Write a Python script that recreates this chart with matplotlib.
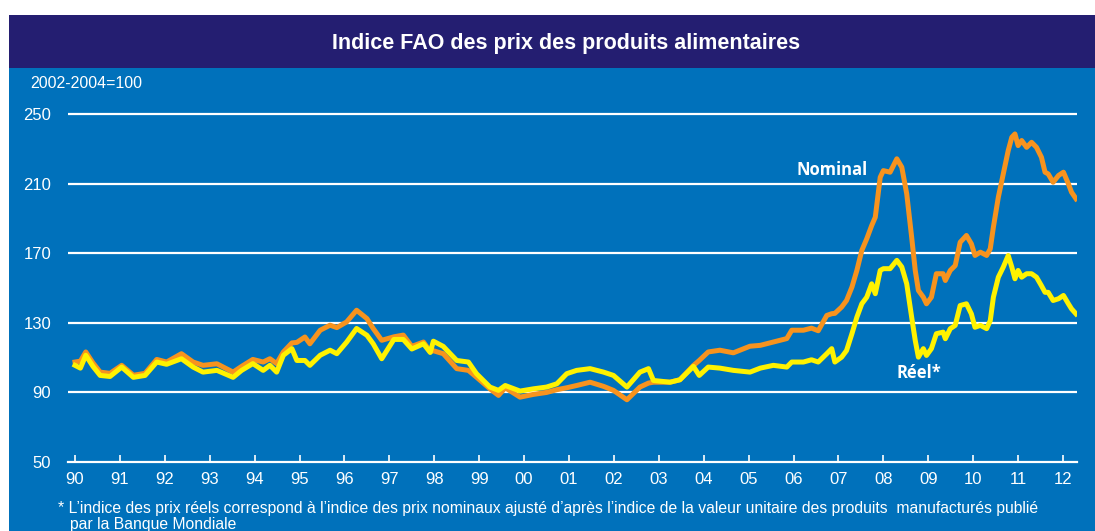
import matplotlib
matplotlib.use("Agg")
from matplotlib import pyplot as plt
from matplotlib.patches import Rectangle
import numpy as np

# time (decimal year), nominal index, real index (2002-2004=100)
years = np.array([
    1990.00, 1990.12, 1990.24, 1990.40, 1990.56, 1990.78, 1991.04, 1991.30, 1991.56, 1991.82,
    1992.04, 1992.37, 1992.63, 1992.85, 1993.16, 1993.52, 1993.71, 1993.96, 1994.19, 1994.34,
    1994.49, 1994.64, 1994.83, 1994.94, 1995.12, 1995.23, 1995.46, 1995.68, 1995.83, 1996.05,
    1996.27, 1996.50, 1996.64, 1996.83, 1997.10, 1997.31, 1997.50, 1997.76, 1997.91, 1997.98,
    1998.20, 1998.50, 1998.76, 1998.94, 1999.24, 1999.43, 1999.58, 1999.91, 2000.21, 2000.50,
    2000.73, 2000.95, 2001.17, 2001.47, 2001.77, 2001.99, 2002.29, 2002.58, 2002.77, 2002.88,
    2003.25, 2003.47, 2003.77, 2003.90, 2004.10, 2004.36, 2004.66, 2005.03, 2005.26, 2005.55,
    2005.85, 2005.96, 2006.22, 2006.40, 2006.55, 2006.74, 2006.85, 2006.92, 2007.07, 2007.18,
    2007.30, 2007.41, 2007.52, 2007.63, 2007.74, 2007.82, 2007.93, 2008.00, 2008.15, 2008.30,
    2008.41, 2008.52, 2008.63, 2008.71, 2008.78, 2008.89, 2008.96, 2009.07, 2009.18, 2009.33,
    2009.38, 2009.49, 2009.60, 2009.71, 2009.85, 2009.96, 2010.04, 2010.16, 2010.30, 2010.38,
    2010.45, 2010.56, 2010.67, 2010.78, 2010.86, 2010.93, 2011.00, 2011.08, 2011.19, 2011.30,
    2011.41, 2011.52, 2011.60, 2011.67, 2011.78, 2011.90, 2012.01, 2012.12, 2012.19, 2012.29])

nominal = np.array([
    107.5, 108.0, 113.3, 107.0, 101.7, 101.0, 105.6, 99.9, 101.0, 109.0,
    107.5, 112.3, 107.5, 105.6, 106.5, 101.7, 105.0, 109.0, 107.5, 109.4,
    106.6, 113.3, 118.5, 118.8, 121.9, 118.0, 125.8, 128.7, 127.3, 130.6,
    137.3, 132.5, 126.8, 120.0, 122.0, 123.0, 116.5, 119.0, 113.5, 114.0,
    112.3, 103.7, 102.7, 98.8, 92.1, 88.3, 92.7, 87.3, 88.9, 90.0,
    91.6, 92.7, 94.0, 95.9, 93.5, 91.2, 85.8, 93.1, 95.4, 95.9,
    95.9, 97.3, 105.5, 108.4, 113.3, 114.3, 112.8, 116.6, 117.1, 119.0,
    121.0, 125.8, 125.8, 127.0, 125.5, 134.3, 135.3, 135.5, 139.1, 142.9,
    150.6, 160.2, 171.7, 178.4, 186.0, 190.8, 213.8, 217.6, 216.7, 224.4,
    219.6, 204.3, 179.3, 160.2, 148.7, 144.8, 141.0, 144.8, 158.3, 158.3,
    154.4, 160.2, 163.0, 176.4, 180.3, 175.5, 168.8, 170.7, 168.8, 172.6,
    185.1, 202.3, 215.7, 229.1, 236.8, 238.7, 232.0, 234.9, 231.0, 233.9,
    231.0, 225.3, 216.7, 215.7, 210.9, 214.8, 216.7, 210.0, 205.2, 201.4])

real = np.array([
    105.6, 104.0, 111.4, 105.0, 99.8, 99.2, 104.6, 98.7, 99.8, 107.5,
    106.2, 109.4, 104.6, 101.7, 102.7, 98.7, 102.7, 106.6, 102.7, 105.6,
    101.7, 111.4, 115.2, 108.4, 108.4, 105.6, 111.4, 114.3, 112.3, 119.0,
    126.8, 122.9, 118.0, 109.4, 120.5, 120.5, 115.0, 118.0, 113.0, 119.5,
    116.5, 108.4, 107.5, 100.8, 93.1, 91.2, 94.0, 90.8, 92.1, 93.1,
    95.0, 100.8, 102.7, 103.7, 101.7, 99.8, 93.1, 101.7, 103.7, 96.9,
    95.9, 97.3, 105.0, 99.8, 104.6, 104.0, 102.7, 101.7, 104.0, 105.6,
    104.6, 107.5, 107.5, 108.8, 107.5, 112.3, 115.2, 107.5, 110.3, 114.1,
    123.8, 133.3, 141.0, 144.8, 152.5, 146.8, 160.2, 161.2, 161.2, 166.0,
    162.2, 152.5, 133.3, 119.9, 110.3, 115.2, 111.3, 115.2, 123.8, 124.7,
    120.9, 126.7, 128.6, 140.0, 141.0, 135.2, 127.5, 128.6, 126.7, 131.3,
    144.8, 156.3, 162.1, 168.8, 162.1, 155.4, 160.2, 156.3, 158.3, 158.3,
    156.3, 151.4, 147.6, 147.6, 142.9, 143.9, 145.8, 141.0, 138.1, 135.2])

tick_years = np.arange(1990, 2013)
tick_labels = ["%02d" % (y % 100) for y in tick_years]
y_ticks = [50, 90, 130, 170, 210, 250]

blue = "#0071BB"
navy = "#241E71"
orange = "#F7931E"
yellow = "#FFF200"
font = ["Liberation Sans", "DejaVu Sans"]

W, H = 1095, 531
fig = plt.figure(figsize=(W / 100, H / 100), dpi=100)
fig.patch.set_facecolor("white")

# background panels (pixel -> figure fraction)
fig.patches.append(Rectangle((9 / W, 0), 1, (H - 68) / H, transform=fig.transFigure,
                             facecolor=blue, edgecolor="none", zorder=-10))
fig.patches.append(Rectangle((9 / W, (H - 68) / H), 1, 53 / H, transform=fig.transFigure,
                             facecolor=navy, edgecolor="none", zorder=-10))

fig.text(566 / W, 1 - 43 / H, "Indice FAO des prix des produits alimentaires",
         color="white", fontsize=15.5, fontweight="bold", family=font,
         ha="center", va="center")
fig.text(30 / W, 1 - 84 / H, "2002-2004=100", color="white", fontsize=11.5,
         family=font, ha="left", va="center")
fig.text(58 / W, 1 - 508 / H,
         "* L\u2019indice des prix réels correspond à l\u2019indice des prix nominaux ajusté "
         "d\u2019après l\u2019indice de la valeur unitaire des produits  manufacturés publié",
         color="white", fontsize=11.3, family=font, ha="left", va="center")
fig.text(70 / W, 1 - 525 / H, "par la Banque Mondiale", color="white", fontsize=11.3,
         family=font, ha="left", va="center")

# axes: 1990 at x=75px, 2012 at x=1063px; 250 at y=114px, 50 at y=462px
pxy = (1063 - 75) / 22.0
x0 = 1990 - (75 - 68) / pxy
x1 = 2012 + (1077 - 1063) / pxy
pyu = (462 - 114.3) / 200.0
ytop = 252
ax_top = 462 - (ytop - 50) * pyu
ax = fig.add_axes([68 / W, (H - 462) / H, (1077 - 68) / W, (462 - ax_top) / H])
ax.set_facecolor("none")
ax.set_xlim(x0, x1)
ax.set_ylim(50, ytop)

for v in y_ticks[1:]:
    ax.axhline(v, color="white", lw=1.6, zorder=1)

ax.plot(years, nominal, color=orange, lw=3.6, solid_joinstyle="round", zorder=3)
ax.plot(years, real, color=yellow, lw=3.6, solid_joinstyle="round", zorder=4)

for s in ["top", "right", "left"]:
    ax.spines[s].set_visible(False)
ax.spines["bottom"].set_color("white")
ax.spines["bottom"].set_linewidth(1.6)

ax.set_xticks(tick_years)
ax.set_xticklabels(tick_labels)
ax.set_yticks(y_ticks)
ax.tick_params(axis="x", direction="in", length=5, width=1.2, color="white",
               labelcolor="white", labelsize=12, pad=7)
ax.tick_params(axis="y", length=0, labelcolor="white", labelsize=12, pad=12)
for lab in ax.get_xticklabels() + ax.get_yticklabels():
    lab.set_family(font)

ax.text(2006.85, 218, "Nominal", color="white", fontsize=12, fontweight="bold",
        family="Open Sans", ha="center", va="center")
ax.text(2008.8, 101.2, "Réel*", color="white", fontsize=12, fontweight="bold",
        family="Open Sans", ha="center", va="center")

fig.savefig("out.png", dpi=100, facecolor=fig.get_facecolor())
